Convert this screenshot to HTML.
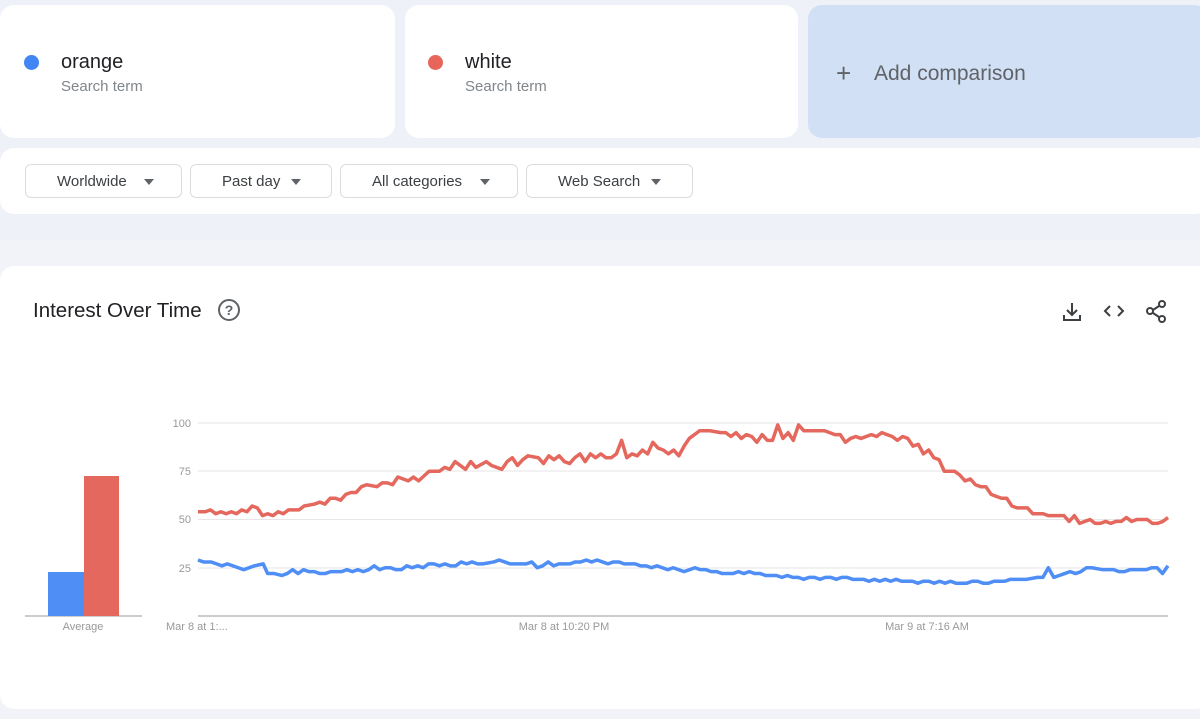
<!DOCTYPE html>
<html><head><meta charset="utf-8"><style>
body{margin:0;width:1200px;height:719px;background:#eef1f7;font-family:"Liberation Sans",sans-serif;position:relative;overflow:hidden}
.card{position:absolute;background:#fff;border-radius:14px}
.dot{position:absolute;width:15px;height:15px;border-radius:50%}
.t{position:absolute;font-size:20px;color:#202124}
.s{position:absolute;font-size:15px;color:#80868b}
.btn{position:absolute;top:164px;height:34px;border:1px solid #dadce0;border-radius:6px;box-sizing:border-box;font-size:15px;color:#3c4043;line-height:34px}
.btn span{position:absolute;top:14px;width:0;height:0;border-left:5px solid transparent;border-right:5px solid transparent;border-top:6px solid #5f6368}
.ax{font-size:11px;fill:#999}
</style></head><body>
<div class="card" style="left:0;top:5px;width:395px;height:133px"></div>
<div class="dot" style="left:24px;top:55px;background:#4285f4"></div>
<div class="t" style="left:61px;top:51px">orange</div>
<div class="s" style="left:61px;top:78px">Search term</div>
<div class="card" style="left:405px;top:5px;width:393px;height:133px"></div>
<div class="dot" style="left:428px;top:55px;background:#e8655b"></div>
<div class="t" style="left:465px;top:51px">white</div>
<div class="s" style="left:465px;top:78px">Search term</div>
<div class="card" style="left:808px;top:5px;width:400px;height:133px;background:#d2e0f5"></div>
<div style="position:absolute;left:836px;top:60px;font-size:26px;color:#5f6368;line-height:26px">+</div>
<div style="position:absolute;left:874px;top:62px;font-size:21px;color:#5f6368">Add comparison</div>
<div class="card" style="left:0;top:148px;width:1210px;height:66px"></div>
<div class="btn" style="left:25px;width:157px;padding-left:31px">Worldwide<span style="left:118px"></span></div>
<div class="btn" style="left:190px;width:142px;padding-left:31px">Past day<span style="left:100px"></span></div>
<div class="btn" style="left:340px;width:178px;padding-left:31px">All categories<span style="left:139px"></span></div>
<div class="btn" style="left:526px;width:167px;padding-left:31px">Web Search<span style="left:124px"></span></div>
<div style="position:absolute;left:0;top:240px;width:1200px;height:479px;background:#f1f3f8"></div>
<div class="card" style="left:0;top:266px;width:1210px;height:443px"></div>
<div style="position:absolute;left:33px;top:299px;font-size:20.5px;color:#202124">Interest Over Time</div>
<div style="position:absolute;left:218px;top:299px;width:18px;height:18px;border:2px solid #5f6368;border-radius:50%;font-size:14px;line-height:18px;text-align:center;color:#5f6368;font-weight:bold">?</div>
<svg style="position:absolute;left:0;top:0" width="1200" height="719">
<g stroke="#3c4043" stroke-width="2" fill="none">
<path d="M1072 303v12M1067 310l5 5 5-5M1064 315v5h16v-5"/>
<path d="M1110 306l-5 5 5 5M1118 306l5 5-5 5"/>
<circle cx="1162" cy="304" r="3"/><circle cx="1162" cy="319" r="3"/><circle cx="1150" cy="311" r="3"/>
<path d="M1153 310l6-4M1153 313l6 4"/>
</g>
<g stroke="#e6e6e6" stroke-width="1">
<line x1="198" y1="423" x2="1168" y2="423"/><line x1="198" y1="471" x2="1168" y2="471"/>
<line x1="198" y1="519.5" x2="1168" y2="519.5"/><line x1="198" y1="568" x2="1168" y2="568"/>
</g>
<line x1="198" y1="616" x2="1168" y2="616" stroke="#999"/>
<line x1="25" y1="616" x2="142" y2="616" stroke="#999"/>
<rect x="48" y="572" width="36" height="44" fill="#4e8ef5"/>
<rect x="84" y="476" width="35" height="140" fill="#e4685d"/>
<text class="ax" x="191" y="427" text-anchor="end">100</text>
<text class="ax" x="191" y="475" text-anchor="end">75</text>
<text class="ax" x="191" y="523" text-anchor="end">50</text>
<text class="ax" x="191" y="572" text-anchor="end">25</text>
<text class="ax" x="83" y="630" text-anchor="middle">Average</text>
<text class="ax" x="166" y="630">Mar 8 at 1:...</text>
<text class="ax" x="564" y="630" text-anchor="middle">Mar 8 at 10:20 PM</text>
<text class="ax" x="927" y="630" text-anchor="middle">Mar 9 at 7:16 AM</text>
<g transform="translate(198,616) scale(1.0408,-1.93) translate(-198,0)" fill="none" stroke-width="3.5" stroke-linejoin="round">
<polyline vector-effect="non-scaling-stroke" stroke="#e4685d" points="198,54 205,54 210,55 215,53 220,54 225,53 230,54 235,53 240,55 245,54 250,57 255,56 260,52 265,53 270,52 275,54 280,53 285,55 295,55 300,57 310,58 315,59 320,58 325,61 330,61 335,60 340,63 345,64 350,64 355,67 360,68 370,67 375,69 380,69 385,68 390,72 400,70 405,72 410,70 420,75 430,75 435,77 440,76 445,80 455,76 460,80 465,77 475,80 480,78 490,76 495,80 500,82 505,78 510,81 515,83 525,82 530,79 535,83 540,81 545,83 550,80 555,79 560,82 565,84 570,80 575,84 580,82 585,84 590,82 595,82 600,84 605,91 610,82 615,84 620,83 625,86 630,84 635,90 640,87 645,86 650,84 655,86 660,83 665,88 670,92 680,96 690,96 700,95 705,95 710,93 715,95 720,92 725,94 730,93 735,90 740,94 745,91 750,91 755,99 760,92 765,95 770,91 775,99 780,96 790,96 800,96 810,94 815,94 820,90 825,92 830,93 835,92 840,93 845,94 850,93 855,95 860,94 865,93 870,91 875,93 880,92 885,88 890,89 895,84 900,86 905,82 910,81 915,75 925,75 930,73 935,70 940,71 945,68 950,67 955,67 960,63 965,62 970,61 975,61 980,57 985,56 995,56 1000,53 1010,53 1015,52 1020,52 1030,52 1035,49 1040,52 1045,48 1050,49 1055,50 1060,48 1065,48 1070,49 1075,48 1080,49 1085,49 1090,51 1095,49 1100,50 1110,50 1115,48 1120,48 1125,49 1130,51"/>
</g>
<g transform="translate(198,616) scale(1.0874,-1.93) translate(-198,0)" fill="none" stroke-width="3.5" stroke-linejoin="round">
<polyline vector-effect="non-scaling-stroke" stroke="#4e8ef5" points="198,29 203,28 210,28 215,27 220,26 225,27 235,25 240,24 250,26 258,27 262,22 268,22 275,21 280,22 285,24 290,22 295,24 300,23 305,23 310,22 315,22 320,23 330,23 335,24 340,23 345,24 350,23 355,24 360,26 365,24 370,25 375,25 380,24 385,24 390,26 395,25 400,26 405,25 410,27 415,27 420,26 425,27 430,26 435,26 440,28 445,27 450,28 455,27 460,27 470,28 475,29 480,28 485,27 500,27 505,28 510,25 515,26 520,28 525,26 530,27 540,27 545,28 550,28 555,29 560,28 565,29 570,28 575,27 580,28 585,28 590,27 600,27 605,26 610,26 615,25 620,26 625,25 630,24 635,25 640,24 645,23 650,24 655,25 660,24 665,24 670,23 675,23 680,22 690,22 695,23 700,22 705,23 710,22 715,22 720,21 725,21 730,21 735,20 740,21 745,20 750,20 755,19 760,20 765,20 770,19 775,20 780,20 785,19 790,20 795,20 800,19 810,19 815,18 820,19 825,18 830,19 835,18 840,19 845,18 850,18 855,18 860,17 865,18 870,18 875,17 880,18 885,17 890,18 895,17 900,17 905,17 910,18 915,18 920,17 925,17 930,18 935,18 940,18 945,19 950,19 955,19 960,19 970,20 975,20 980,25 985,20 990,21 995,22 1000,23 1005,22 1010,23 1015,25 1020,25 1030,24 1040,24 1045,23 1050,23 1055,24 1070,24 1075,25 1080,25 1085,22 1090,26"/>
</g>
</svg>
</body></html>
